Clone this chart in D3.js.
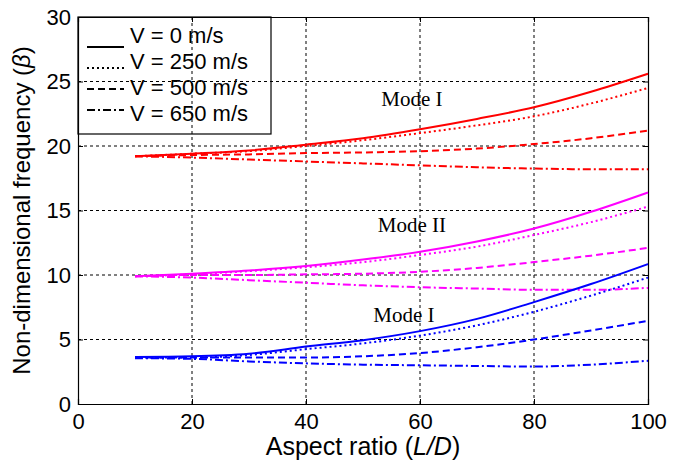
<!DOCTYPE html>
<html>
<head>
<meta charset="UTF-8">
<title>Non-dimensional frequency vs aspect ratio</title>
<script src="https://cdn.jsdelivr.net/npm/d3@7"></script>
<style>
    body { margin: 0; background: #fff; }
    text { font-family: "Liberation Sans", Arial, sans-serif; }
    .mode { font-family: "Liberation Serif", "Times New Roman", serif; }
</style>
</head>
<body>
<div id="chart"></div>
<script>
    const aspectRatio = [10, 20, 30, 40, 50, 60, 70, 80, 90, 100];

    // upper curves (red)
    const redV0   = [19.2, 19.4, 19.65, 20.1, 20.6, 21.3, 22.1, 23.0, 24.2, 25.6];
    const redV250 = [19.2, 19.4, 19.6, 20.0, 20.45, 21.0, 21.6, 22.3, 23.3, 24.5];
    const redV500 = [19.2, 19.3, 19.35, 19.45, 19.5, 19.6, 19.8, 20.15, 20.6, 21.2];
    const redV650 = [19.2, 19.1, 18.95, 18.8, 18.65, 18.5, 18.35, 18.25, 18.2, 18.2];

    // middle curves (magenta)
    const magV0   = [9.9, 10.1, 10.35, 10.7, 11.2, 11.8, 12.6, 13.6, 14.9, 16.4];
    const magV250 = [9.9, 10.05, 10.3, 10.6, 11.0, 11.55, 12.2, 13.1, 14.1, 15.3];
    const magV500 = [9.9, 10.0, 10.0, 10.05, 10.1, 10.25, 10.55, 11.0, 11.5, 12.1];
    const magV650 = [9.9, 9.8, 9.6, 9.4, 9.2, 9.05, 8.95, 8.85, 8.85, 9.0];

    // lower curves (blue)
    const blueV0   = [3.65, 3.7, 3.9, 4.45, 4.95, 5.65, 6.6, 7.9, 9.3, 10.85];
    const blueV250 = [3.6, 3.6, 3.8, 4.25, 4.7, 5.3, 6.1, 7.15, 8.4, 9.8];
    const blueV500 = [3.6, 3.6, 3.6, 3.6, 3.7, 3.95, 4.4, 5.0, 5.7, 6.45];
    const blueV650 = [3.55, 3.5, 3.3, 3.15, 3.05, 3.0, 2.95, 2.9, 3.05, 3.35];

    const xTicks = [0, 20, 40, 60, 80, 100];
    const yTicks = [0, 5, 10, 15, 20, 25, 30];

    const legendLabels = ["V = 0 m/s", "V = 250 m/s", "V = 500 m/s", "V = 650 m/s"];
    const modeLabels = [
        {text: "Mode I", x: 53.2, y: 23.1},
        {text: "Mode II", x: 52.6, y: 13.3},
        {text: "Mode I", x: 51.8, y: 6.35}
    ];

    // one dash pattern per velocity
    const dashes = [null, "2,3", "7,4", "8,3,2,3"];

    const svgWidth = 680, svgHeight = 465;
    const plotLeft = 78, plotRight = 648, plotTop = 17, plotBottom = 404;

    const svg = d3.select("#chart")
        .append("svg")
        .attr("width", svgWidth)
        .attr("height", svgHeight);

    const xScale = d3.scaleLinear().domain([0, 100]).range([plotLeft, plotRight]);
    const yScale = d3.scaleLinear().domain([0, 30]).range([plotBottom, plotTop]);

    // dotted grid
    svg.append("g").selectAll("line").data(xTicks.slice(1, -1)).enter()
        .append("line")
        .attr("x1", d => xScale(d)).attr("x2", d => xScale(d))
        .attr("y1", plotTop).attr("y2", plotBottom)
        .attr("stroke", "#000").attr("stroke-dasharray", "3,3");
    svg.append("g").selectAll("line").data(yTicks.slice(1, -1)).enter()
        .append("line")
        .attr("y1", d => yScale(d)).attr("y2", d => yScale(d))
        .attr("x1", plotLeft).attr("x2", plotRight)
        .attr("stroke", "#000").attr("stroke-dasharray", "3,3");

    // axes with inward ticks
    const xAxis = svg.append("g").attr("transform", "translate(0," + plotBottom + ")")
        .call(d3.axisBottom(xScale).tickValues(xTicks).tickSize(-5).tickPadding(8));
    const yAxis = svg.append("g").attr("transform", "translate(" + plotLeft + ",0)")
        .call(d3.axisLeft(yScale).tickValues(yTicks).tickSize(-5).tickPadding(7));
    svg.append("g").attr("transform", "translate(0," + plotTop + ")")
        .call(d3.axisTop(xScale).tickValues(xTicks).tickSize(-5).tickFormat(""));
    svg.append("g").attr("transform", "translate(" + plotRight + ",0)")
        .call(d3.axisRight(yScale).tickValues(yTicks).tickSize(-5).tickFormat(""));
    svg.selectAll(".domain").attr("stroke", "#000").attr("stroke-width", 1.2);
    svg.selectAll(".tick text").attr("font-size", 22).attr("fill", "#000")
        .style("font-family", "'Liberation Sans', Arial, sans-serif");
    xAxis.selectAll(".tick text").attr("dy", "0.75em");

    // axis titles
    const xTitle = svg.append("text")
        .attr("x", (plotLeft + plotRight) / 2).attr("y", 455)
        .attr("text-anchor", "middle").attr("font-size", 25);
    xTitle.append("tspan").text("Aspect ratio (");
    xTitle.append("tspan").attr("font-style", "italic").text("L/D");
    xTitle.append("tspan").text(")");

    const yTitle = svg.append("text")
        .attr("transform", "translate(30," + (plotTop + plotBottom) / 2 + ") rotate(-90)")
        .attr("text-anchor", "middle").attr("font-size", 24);
    yTitle.append("tspan").text("Non-dimensional frequency (");
    yTitle.append("tspan").attr("font-style", "italic").text("β");
    yTitle.append("tspan").text(")");

    // curves
    const series = [
        {color: "#ff0000", values: [redV0, redV250, redV500, redV650]},
        {color: "#ff00ff", values: [magV0, magV250, magV500, magV650]},
        {color: "#0000ff", values: [blueV0, blueV250, blueV500, blueV650]}
    ];
    const line = d3.line()
        .x((d, i) => xScale(aspectRatio[i]))
        .y(d => yScale(d))
        .curve(d3.curveMonotoneX);

    series.forEach(s => {
        s.values.forEach((vals, k) => {
            svg.append("path")
                .attr("d", line(vals))
                .attr("fill", "none")
                .attr("stroke", s.color)
                .attr("stroke-width", 2)
                .attr("stroke-dasharray", dashes[k]);
        });
    });

    // mode labels
    svg.selectAll("text.mode").data(modeLabels).enter()
        .append("text")
        .attr("class", "mode")
        .attr("x", d => xScale(d.x))
        .attr("y", d => yScale(d.y))
        .attr("font-size", 21)
        .text(d => d.text);

    // legend (transparent, grid shows through)
    svg.append("rect")
        .attr("x", plotLeft).attr("y", plotTop)
        .attr("width", 193).attr("height", 117)
        .attr("fill", "none").attr("stroke", "#000").attr("stroke-width", 1.2);
    const sampleY = [47, 68, 89, 110];
    legendLabels.forEach((label, k) => {
        svg.append("line")
            .attr("x1", 87).attr("x2", 124)
            .attr("y1", sampleY[k]).attr("y2", sampleY[k])
            .attr("stroke", "#000").attr("stroke-width", 2)
            .attr("stroke-dasharray", dashes[k]);
        svg.append("text")
            .attr("x", 130).attr("y", 43 + k * 26)
            .attr("font-size", 22)
            .text(label);
    });
</script>
</body>
</html>
